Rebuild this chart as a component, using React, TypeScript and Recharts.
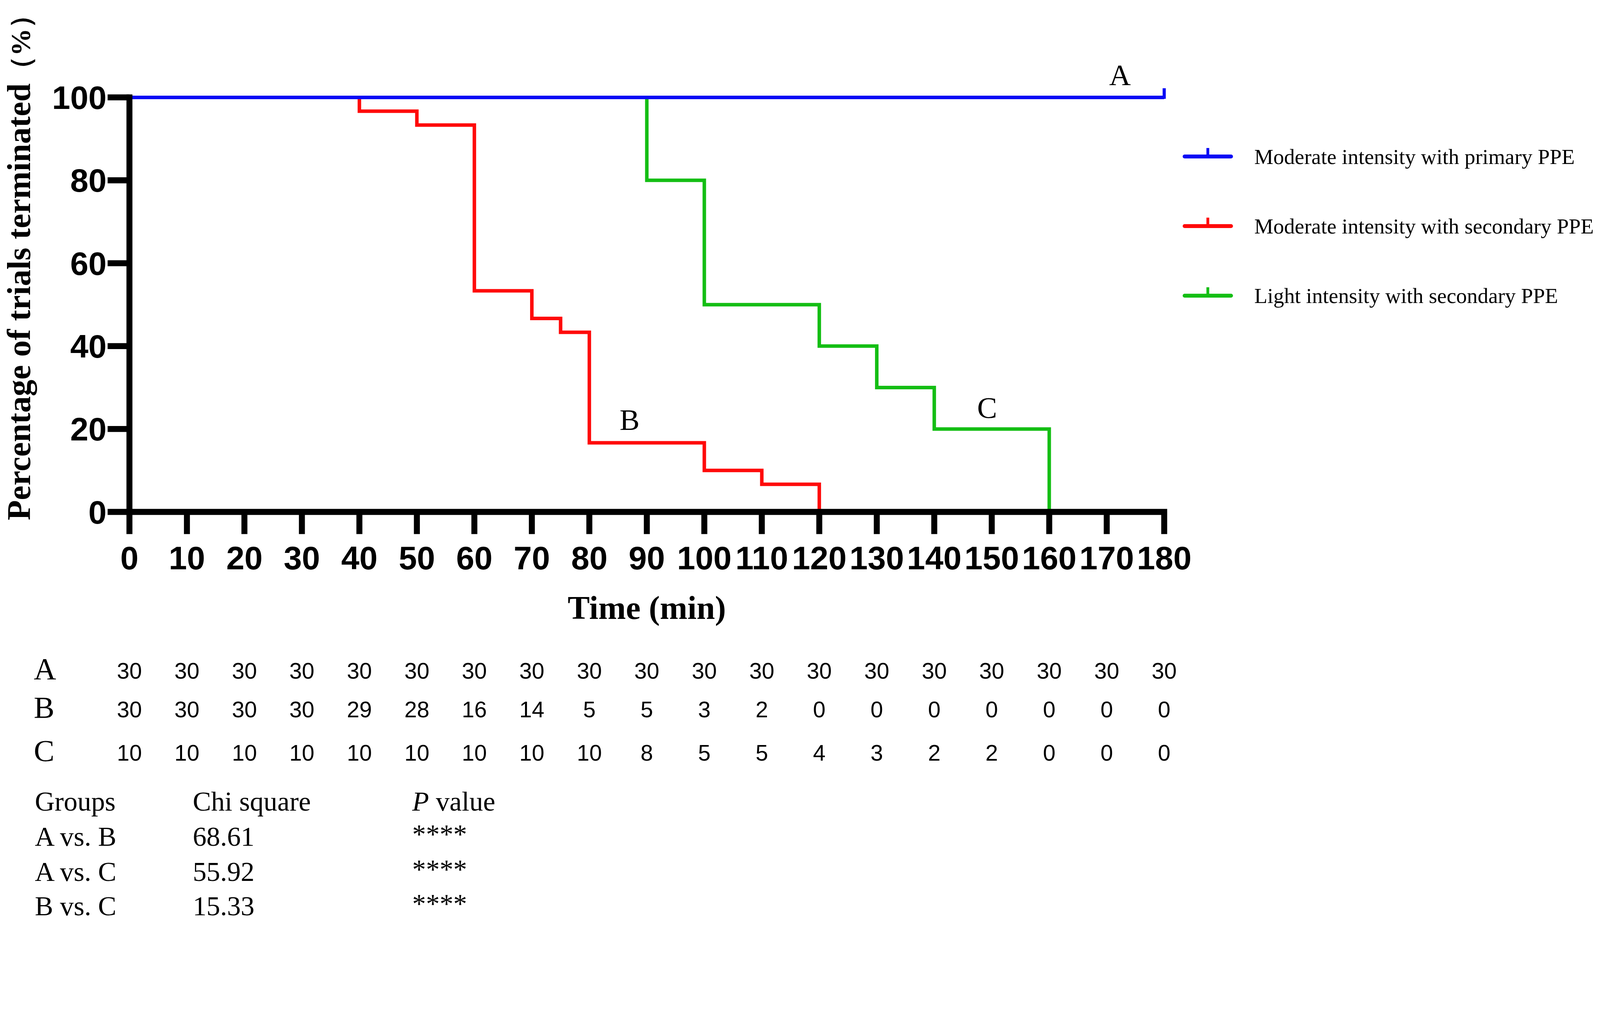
import React from 'react';
import { LineChart, Line, XAxis, YAxis, Legend, ReferenceDot } from 'recharts';

const timeTicks = [0, 10, 20, 30, 40, 50, 60, 70, 80, 90, 100, 110, 120, 130, 140, 150, 160, 170, 180];
const percentTicks = [0, 20, 40, 60, 80, 100];

// Kaplan-Meier style step curves, percent still running
const curveA = [
  { t: 0, pct: 100 },
  { t: 180, pct: 100 },
];
const curveB = [
  { t: 0, pct: 100 },
  { t: 40, pct: 96.67 },
  { t: 50, pct: 93.33 },
  { t: 60, pct: 53.33 },
  { t: 70, pct: 46.67 },
  { t: 75, pct: 43.33 },
  { t: 80, pct: 16.67 },
  { t: 100, pct: 10 },
  { t: 110, pct: 6.67 },
  { t: 120, pct: 0 },
];
const curveC = [
  { t: 0, pct: 100 },
  { t: 90, pct: 80 },
  { t: 100, pct: 50 },
  { t: 120, pct: 40 },
  { t: 130, pct: 30 },
  { t: 140, pct: 20 },
  { t: 160, pct: 0 },
];

// number at risk under each tick
const atRiskA = [30, 30, 30, 30, 30, 30, 30, 30, 30, 30, 30, 30, 30, 30, 30, 30, 30, 30, 30];
const atRiskB = [30, 30, 30, 30, 29, 28, 16, 14, 5, 5, 3, 2, 0, 0, 0, 0, 0, 0, 0];
const atRiskC = [10, 10, 10, 10, 10, 10, 10, 10, 10, 8, 5, 5, 4, 3, 2, 2, 0, 0, 0];

const seriesNames = [
  'Moderate intensity with primary PPE',
  'Moderate intensity with secondary PPE',
  'Light intensity with secondary PPE',
];
const groupLetters = ['A', 'B', 'C'];

const curveTags = [
  { text: 'A', t: 172.3, pct: 105.5 },
  { text: 'B', t: 87, pct: 22.3 },
  { text: 'C', t: 149.2, pct: 25.3 },
];

const comparisons = ['A vs. B', 'A vs. C', 'B vs. C'];
const chiSquare = ['68.61', '55.92', '15.33'];
const pStars = ['****', '****', '****'];

const BLUE = '#0A0AF5';
const RED = '#FF0A0A';
const GREEN = '#14BE14';
const colors = [BLUE, RED, GREEN];

const SANS = '"Liberation Sans", Arial, sans-serif';
const SERIF = '"Liberation Serif", "Times New Roman", serif';

const W = 4549;
const H = 2625;

const boldTick = { fill: '#000', fontSize: 93, fontWeight: 700, fontFamily: SANS };
const rowTick = { fill: '#000', fontSize: 64, fontFamily: SANS };

function YTitle({ viewBox }: any) {
  const x = viewBox.x - 32;
  const y = viewBox.y + viewBox.height + 24;
  return (
    <text
      transform={`translate(${x},${y}) rotate(-90)`}
      textAnchor="start"
      fontFamily={SERIF}
      fontWeight={700}
      fontSize={94}
      fill="#000"
    >
      Percentage of trials terminated<tspan fontSize={78}>（%）</tspan>
    </text>
  );
}

function XTitle({ viewBox }: any) {
  return (
    <text
      x={viewBox.x + viewBox.width / 2}
      y={viewBox.y + 304}
      textAnchor="middle"
      fontFamily={SERIF}
      fontWeight={700}
      fontSize={94}
      fill="#000"
    >
      Time (min)
    </text>
  );
}

function RowLetter({ viewBox, letter }: any) {
  return (
    <text x={viewBox.x - 272} y={viewBox.y + 46} fontFamily={SERIF} fontSize={88} fill="#000">
      {letter}
    </text>
  );
}

function CensorEnd(props: any) {
  const { cx, cy, index } = props;
  if (index !== curveA.length - 1) return <g key={`d${index}`} />;
  return <path key={`d${index}`} d={`M${cx},${cy + 4}V${cy - 26}`} stroke={BLUE} strokeWidth={9} />;
}

function LegendBox() {
  return (
    <svg width={1180} height={520}>
      {seriesNames.map((name, i) => {
        const y = 45 + 198 * i;
        return (
          <g key={name}>
            <line x1={8} x2={140} y1={y} y2={y} stroke={colors[i]} strokeWidth={11} strokeLinecap="round" />
            <line x1={74} x2={74} y1={y} y2={y - 24} stroke={colors[i]} strokeWidth={8} />
            <text x={206} y={y + 21} fontFamily={SERIF} fontSize={61} fill="#000">
              {name}
            </text>
          </g>
        );
      })}
    </svg>
  );
}

function StatsTable() {
  const cols = [99, 548, 1172];
  const rows = [2405, 2505, 2603];
  const txt = { fontFamily: SERIF, fontSize: 78, fill: '#000' };
  return (
    <svg
      width={W}
      height={H}
      style={{ position: 'absolute', left: 0, top: 0, pointerEvents: 'none' }}
    >
      <text x={cols[0]} y={2306} {...txt}>Groups</text>
      <text x={cols[1]} y={2306} {...txt}>Chi square</text>
      <text x={cols[2]} y={2306} {...txt}>
        <tspan fontStyle="italic">P</tspan> value
      </text>
      {comparisons.map((c, i) => (
        <g key={c}>
          <text x={cols[0]} y={rows[i]} {...txt}>{c}</text>
          <text x={cols[1]} y={rows[i]} {...txt}>{chiSquare[i]}</text>
          <text x={cols[2]} y={rows[i] - 6} {...txt}>{pStars[i]}</text>
        </g>
      ))}
    </svg>
  );
}

// one axis per at-risk row; ids sort the same way alphabetically and by declaration
const rowAxes = [
  { id: 'a1', counts: atRiskA, height: 110 },
  { id: 'a2', counts: atRiskB, height: 123 },
  { id: 'a3', counts: atRiskC, height: 60 },
].map((ax) => ({ ...ax, rows: timeTicks.map((t, i) => ({ t, n: ax.counts[i] })) }));

export default function App() {
  // fit the fixed-size figure into whatever css viewport the browser reports
  const fit = Math.min(window.innerWidth / W, window.innerHeight / H);
  return (
    <div
      style={{
        position: 'fixed',
        left: 0,
        top: 0,
        width: W,
        height: H,
        background: '#fff',
        transform: `scale(${fit})`,
        transformOrigin: '0 0',
      }}
    >
      <LineChart width={W} height={H} margin={{ top: 277, right: 1239, left: 118, bottom: 447 }}>
        <XAxis
          xAxisId="a0"
          type="number"
          dataKey="t"
          domain={[0, 180]}
          ticks={timeTicks}
          interval={0}
          height={429}
          tickSize={63}
          tickMargin={34}
          tick={boldTick}
          axisLine={{ stroke: '#000', strokeWidth: 17, strokeLinecap: 'square' }}
          tickLine={{ stroke: '#000', strokeWidth: 17 }}
          label={<XTitle />}
        />
        {rowAxes.map((ax, i) => (
          <XAxis
            key={ax.id}
            xAxisId={ax.id}
            type="number"
            dataKey="t"
            domain={[0, 180]}
            allowDataOverflow
            ticks={timeTicks}
            interval={0}
            height={ax.height}
            tickSize={0}
            tickMargin={0}
            axisLine={false}
            tickLine={false}
            tick={rowTick}
            tickFormatter={(v: number) => String(ax.counts[timeTicks.indexOf(v)])}
            label={<RowLetter letter={groupLetters[i]} />}
          />
        ))}
        <YAxis
          type="number"
          domain={[0, 100]}
          ticks={percentTicks}
          interval={0}
          width={250}
          tickSize={62}
          tickMargin={3}
          tick={boldTick}
          axisLine={{ stroke: '#000', strokeWidth: 17, strokeLinecap: 'square' }}
          tickLine={{ stroke: '#000', strokeWidth: 17 }}
          label={<YTitle />}
        />
        {rowAxes.map((ax) => (
          <Line
            key={`n-${ax.id}`}
            xAxisId={ax.id}
            data={ax.rows}
            dataKey="n"
            stroke="none"
            dot={false}
            activeDot={false}
            legendType="none"
            isAnimationActive={false}
          />
        ))}
        <Line
          xAxisId="a0"
          data={curveB}
          dataKey="pct"
          type="stepAfter"
          name={seriesNames[1]}
          stroke={RED}
          strokeWidth={10}
          dot={false}
          activeDot={false}
          isAnimationActive={false}
        />
        <Line
          xAxisId="a0"
          data={curveC}
          dataKey="pct"
          type="stepAfter"
          name={seriesNames[2]}
          stroke={GREEN}
          strokeWidth={10}
          dot={false}
          activeDot={false}
          isAnimationActive={false}
        />
        <Line
          xAxisId="a0"
          data={curveA}
          dataKey="pct"
          type="stepAfter"
          name={seriesNames[0]}
          stroke={BLUE}
          strokeWidth={10}
          dot={CensorEnd}
          activeDot={false}
          isAnimationActive={false}
        />
        {curveTags.map((c) => (
          <ReferenceDot
            key={c.text}
            xAxisId="a0"
            x={c.t}
            y={c.pct}
            r={0}
            fill="none"
            stroke="none"
            ifOverflow="visible"
            label={{ value: c.text, position: 'center', fontSize: 85, fontFamily: SERIF, fill: '#000' }}
          />
        ))}
        <Legend
          layout="vertical"
          align="center"
          verticalAlign="middle"
          wrapperStyle={{ left: 3360, top: 400, width: 1180 }}
          content={<LegendBox />}
        />
      </LineChart>
      <StatsTable />
    </div>
  );
}
